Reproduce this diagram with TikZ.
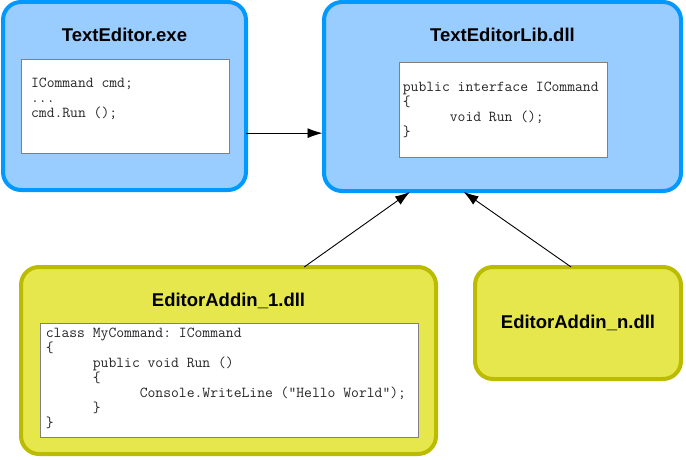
\documentclass[tikz,border=0pt]{standalone}
\usepackage{fontspec}
\newfontfamily\titlefont{Liberation Sans}
\usetikzlibrary{arrows.meta}

\definecolor{modfill}{HTML}{99CCFF}
\definecolor{moddraw}{HTML}{0099FF}
\definecolor{addinfill}{HTML}{E6E64D}
\definecolor{addindraw}{HTML}{BBBB00}

\tikzset{
  module/.style={draw, line width=4pt, rounded corners=18pt, inner sep=0pt, outer sep=0pt},
  exe/.style={module, draw=moddraw, fill=modfill},
  addin/.style={module, draw=addindraw, fill=addinfill},
  codebox/.style={draw=gray, fill=white, line width=1pt, inner sep=0pt, outer sep=0pt},
  % base anchor of a multi-line node sits on its last line
  code/.style={anchor=base west, inner sep=0pt, align=left, text=black!85, font=\fontsize{15.2}{15}\selectfont\ttfamily\frenchspacing},
  title/.style={anchor=base, inner sep=0pt, font=\titlefont\fontsize{18.5}{22}\selectfont\bfseries},
  link/.style={line width=0.9pt, shorten >=1.5pt, -{Latex[length=15pt,width=10pt]}}
}
\newcommand{\tb}{\hphantom{xxxxxx}}

\begin{document}
\begin{tikzpicture}[x=1pt,y=-1pt]
\useasboundingbox (0,0) rectangle (686,460);

% the four modules
\node[exe, minimum width=243pt, minimum height=188pt] (editor) at (124.5,96) {};
\node[exe, minimum width=357pt, minimum height=189pt] (lib) at (502.5,96.5) {};
\node[addin, minimum width=415pt, minimum height=187pt] (addin1) at (228.5,360.5) {};
\node[addin, minimum width=206pt, minimum height=112pt] (addinn) at (578,323) {};

\node[title] (editortitle) at ([yshift=-39.7pt]editor.north) {TextEditor.exe};
\node[title] (libtitle) at ([yshift=-39.7pt]lib.north) {TextEditorLib.dll};
\node[title] (addin1title) at ([yshift=-39pt]addin1.north) {EditorAddin\_1.dll};
\node[title] (addinntitle) at ([yshift=-5.3pt]addinn.center) {EditorAddin\_n.dll};

% code listings
\node[codebox, minimum width=208pt, minimum height=94pt] (editorcode) at (125.5,106.5) {};
\node[codebox, minimum width=208pt, minimum height=95pt] (libcode) at (503.3,109.8) {};
\node[codebox, minimum width=378pt, minimum height=114pt] (addin1code) at (229.7,380.3) {};

\node[code] (editortext) at ([shift={(9.4pt,-57.7pt)}]editorcode.north west)
  {ICommand cmd;\\...\\cmd.Run ();};
\node[code] (libtext) at ([shift={(3.4pt,-73.7pt)}]libcode.north west)
  {public interface ICommand\\\{\\\tb void Run ();\\\}};
\node[code] (addin1text) at ([shift={(5pt,-104.4pt)}]addin1code.north west)
  {class MyCommand: ICommand\\\{\\\tb public void Run ()\\\tb \{\\\tb\tb Console.WriteLine (”Hello World”);\\\tb \}\\\}};

% references
\draw[link] (editor.-17) -- (editor.-17 -| lib.west);
\draw[link] (addin1.51) -- (lib.226);
\draw[link] (addinn.97) -- (lib.247);
\end{tikzpicture}
\end{document}
